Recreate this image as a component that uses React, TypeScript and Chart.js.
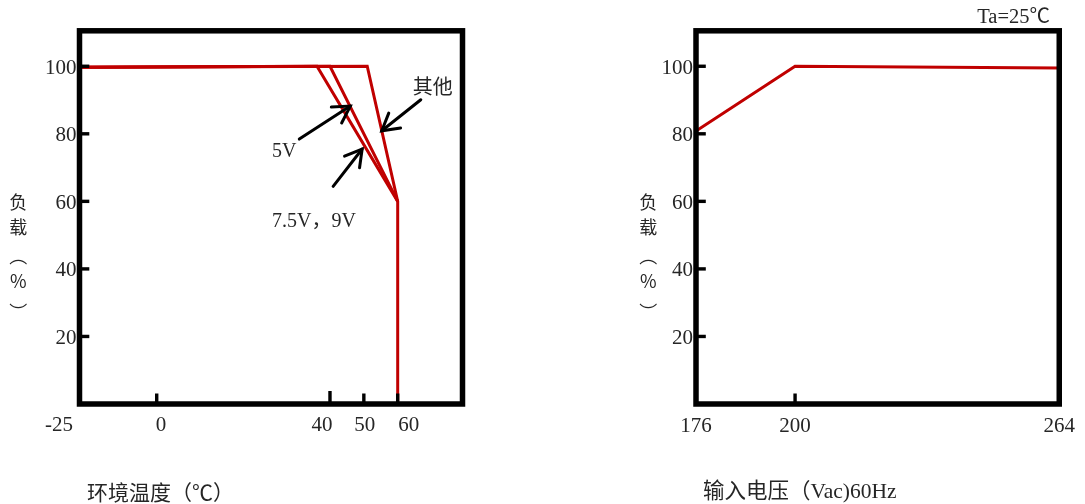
import React, { useEffect, useRef } from 'react';
import { Chart, registerables, LinearScale } from 'chart.js';

Chart.register(...registerables);

// ---------------- data ----------------
// Left chart: derating vs ambient temperature
const tempTicks = [-25, 0, 40, 50, 60];
const tempTickLabels = ['-25', '0', '40', '50', '60'];
const tempTickMarks = [0, 40, 50, 60];
const loadTicks = [20, 40, 60, 80, 100];
const loadTickLabels = ['20', '40', '60', '80', '100'];

const otherLabel = '其他';
const otherX = [-25, 51, 60, 60];
const otherY = [99.7, 100, 60, 0];

const v5Label = '5V';
const v5X = [-25, 40, 60];
const v5Y = [99.7, 100, 60];

const v75Label = '7.5V，9V';
const v75X = [-25, 37, 60];
const v75Y = [99.7, 100, 60];

// arrow heads (data coordinates) for the annotations: 5V, 7.5V/9V, 其他
const arrowHeadX = [46, 49.5, 55.3];
const arrowHeadY = [88.2, 75.5, 80.9];

// Right chart: derating vs input voltage
const voltTicks = [176, 200, 264];
const voltTickLabels = ['176', '200', '264'];
const voltTickMarks = [200];
const voltX = [176, 200, 264];
const voltY = [80.8, 100, 99.5];

const yTitleChars = ['负', '载', '︵', '%', '︶'];
const tempTitle = '环境温度（℃）';
const voltTitle = '输入电压（Vac)60Hz';
const taNote = 'Ta=25℃';

// ---------------- styles ----------------
const RED = '#C00000';
const TEXT = '#262626';
const SERIF = '"Liberation Serif", "Noto Sans CJK SC", serif';
const CJK = '"Noto Sans CJK SC", sans-serif';

// piecewise temperature axis (value -> fraction of axis length)
const TEMP_ANCHORS: [number, number][] = [
  [-25, 0],
  [0, 0.2016],
  [40, 0.654],
  [60, 0.8308],
  [79, 1],
];

class PiecewiseScale extends LinearScale {
  static id = 'piecewise';
  static defaults = LinearScale.defaults;
  getPixelForValue(value: any) {
    if (value === null || value === undefined || isNaN(value)) return NaN;
    const a = TEMP_ANCHORS;
    let i = 0;
    while (i < a.length - 2 && value > a[i + 1][0]) i++;
    const [v0, f0] = a[i];
    const [v1, f1] = a[i + 1];
    const dec = f0 + ((value - v0) / (v1 - v0)) * (f1 - f0);
    return (this as any).getPixelForDecimal(dec);
  }
  getValueForPixel(pixel: number) {
    const dec = (this as any).getDecimalForPixel(pixel);
    const a = TEMP_ANCHORS;
    let i = 0;
    while (i < a.length - 2 && dec > a[i + 1][1]) i++;
    const [v0, f0] = a[i];
    const [v1, f1] = a[i + 1];
    return v0 + ((dec - f0) / (f1 - f0)) * (v1 - v0);
  }
}
Chart.register(PiecewiseScale as any);

function drawArrow(ctx: CanvasRenderingContext2D, hx: number, hy: number, tx: number, ty: number) {
  ctx.beginPath();
  ctx.moveTo(tx, ty);
  ctx.lineTo(hx, hy);
  ctx.stroke();
  const ang = Math.atan2(ty - hy, tx - hx);
  const len = 19;
  const spread = Math.PI / 6;
  ctx.beginPath();
  ctx.moveTo(hx + len * Math.cos(ang - spread), hy + len * Math.sin(ang - spread));
  ctx.lineTo(hx, hy);
  ctx.lineTo(hx + len * Math.cos(ang + spread), hy + len * Math.sin(ang + spread));
  ctx.stroke();
}

type DecorCfg = {
  xMarks: number[];
  longMarks?: Record<number, number>;
  yTitleX: number;
  xTitle: string;
  xTitleX: number;
  xTitleFont: string;
  extra?: (chart: any, ctx: CanvasRenderingContext2D) => void;
};

function makeDecor(cfg: DecorCfg) {
  return {
    id: 'decor',
    afterDatasetsDraw(chart: any) {
      const ctx: CanvasRenderingContext2D = chart.ctx;
      const { left, right, top, bottom } = chart.chartArea;
      const xs = chart.scales.x;
      const ys = chart.scales.y;
      ctx.save();
      // frame
      ctx.strokeStyle = '#000';
      ctx.lineWidth = 5.5;
      ctx.lineJoin = 'miter';
      ctx.strokeRect(left, top, right - left, bottom - top);
      // inward tick marks
      ctx.fillStyle = '#000';
      loadTicks.forEach((v) => {
        const y = ys.getPixelForValue(v);
        ctx.fillRect(left, y - 1.7, 9.8, 3.4);
      });
      cfg.xMarks.forEach((v) => {
        const x = xs.getPixelForValue(v);
        const len = (cfg.longMarks && cfg.longMarks[v]) || 10.5;
        ctx.fillRect(x - 1.7, bottom - len, 3.4, len);
      });
      // vertical y title
      ctx.fillStyle = TEXT;
      ctx.font = `18px ${CJK}`;
      ctx.textAlign = 'center';
      ctx.textBaseline = 'middle';
      const yPos = [202, 227, 256, 281, 312];
      yTitleChars.forEach((ch, i) => ctx.fillText(ch, cfg.yTitleX, yPos[i]));
      // x title
      ctx.font = cfg.xTitleFont;
      ctx.textAlign = 'left';
      ctx.fillText(cfg.xTitle, cfg.xTitleX, 492);
      if (cfg.extra) cfg.extra(chart, ctx);
      ctx.restore();
    },
  };
}

function pts(xs: number[], ys: number[]) {
  return xs.map((x, i) => ({ x, y: ys[i] }));
}

function lineDs(label: string, data: any[]) {
  return {
    label,
    data,
    borderColor: RED,
    backgroundColor: RED,
    borderWidth: 3,
    pointRadius: 0,
    tension: 0,
    fill: false,
    borderJoinStyle: 'miter',
  };
}

const yAxis = (width: number) => ({
  type: 'linear',
  min: 0,
  max: 110.5,
  afterBuildTicks: (s: any) => {
    s.ticks = loadTicks.map((v) => ({ value: v }));
  },
  ticks: {
    padding: 3,
    labelOffset: 2,
    color: TEXT,
    font: { family: SERIF, size: 21 },
    callback: (_v: any, i: number) => loadTickLabels[i],
  },
  grid: { display: false, drawTicks: false },
  border: { display: false },
  afterFit: (s: any) => {
    s.width = width;
  },
});

function leftConfig(): any {
  const labelDx = [-20.5, 4.3, -8, 1, 11];
  const decor = makeDecor({
    xMarks: tempTickMarks,
    longMarks: { 40: 13 },
    yTitleX: 18.3,
    xTitle: tempTitle,
    xTitleX: 87,
    xTitleFont: `21px ${CJK}`,
    extra: (chart, ctx) => {
      const xs = chart.scales.x;
      const ys = chart.scales.y;
      // x tick labels
      ctx.fillStyle = TEXT;
      ctx.font = `21px ${SERIF}`;
      ctx.textAlign = 'center';
      ctx.textBaseline = 'middle';
      tempTicks.forEach((v, i) => {
        ctx.fillText(tempTickLabels[i], xs.getPixelForValue(v) + labelDx[i], 425);
      });
      // annotations
      ctx.font = `20px ${SERIF}`;
      ctx.textAlign = 'left';
      ctx.fillText(v5Label, 272, 152);
      ctx.fillText(v75Label, 272, 221.5);
      ctx.font = `20px ${CJK}`;
      ctx.fillText(otherLabel, 412.7, 86);
      // arrows
      ctx.strokeStyle = '#000';
      ctx.lineWidth = 3;
      ctx.lineCap = 'round';
      const tails = [
        [-51, 33],
        [-29, 37.3],
        [39, -31],
      ];
      arrowHeadX.forEach((hx, i) => {
        const px = xs.getPixelForValue(hx);
        const py = ys.getPixelForValue(arrowHeadY[i]);
        drawArrow(ctx, px, py, px + tails[i][0], py + tails[i][1]);
      });
    },
  });
  return {
    type: 'line',
    data: {
      datasets: [
        lineDs(otherLabel, pts(otherX, otherY)),
        lineDs(v5Label, pts(v5X, v5Y)),
        lineDs(v75Label, pts(v75X, v75Y)),
      ],
    },
    options: {
      animation: false,
      responsive: false,
      layout: { padding: { left: 0, top: 30.8, right: 560 - 462.5, bottom: 60 } },
      plugins: { legend: { display: false }, tooltip: { enabled: false } },
      scales: {
        x: {
          type: 'piecewise',
          min: -25,
          max: 79,
          afterBuildTicks: (s: any) => {
            s.ticks = tempTicks.map((v) => ({ value: v }));
          },
          ticks: { display: false },
          grid: { display: false, drawTicks: false },
          border: { display: false },
          afterFit: (s: any) => {
            s.height = 40;
          },
        },
        y: yAxis(79.5),
      },
    },
    plugins: [decor],
  };
}

function rightConfig(): any {
  const decor = makeDecor({
    xMarks: voltTickMarks,
    yTitleX: 88.3,
    xTitle: voltTitle,
    xTitleX: 143,
    xTitleFont: `21.5px ${SERIF}`,
    extra: (_chart, ctx) => {
      ctx.fillStyle = TEXT;
      ctx.font = `20.5px ${SERIF}`;
      ctx.textAlign = 'right';
      ctx.textBaseline = 'middle';
      ctx.fillText(taNote, 490, 17.5);
    },
  });
  return {
    type: 'line',
    data: {
      datasets: [lineDs('负载', pts(voltX, voltY))],
    },
    options: {
      animation: false,
      responsive: false,
      layout: { padding: { left: 0, top: 30.8, right: 23, bottom: 60 } },
      plugins: { legend: { display: false }, tooltip: { enabled: false } },
      scales: {
        x: {
          type: 'linear',
          min: 176,
          max: 264,
          afterBuildTicks: (s: any) => {
            s.ticks = voltTicks.map((v) => ({ value: v }));
          },
          ticks: {
            autoSkip: false,
            maxRotation: 0,
            padding: 10,
            color: TEXT,
            font: { family: SERIF, size: 21 },
            callback: (_v: any, i: number) => voltTickLabels[i],
          },
          grid: { display: false, drawTicks: false },
          border: { display: false },
          afterFit: (s: any) => {
            s.height = 40;
          },
        },
        y: yAxis(136),
      },
    },
    plugins: [decor],
  };
}

export default function App() {
  const leftRef = useRef<HTMLCanvasElement>(null);
  const rightRef = useRef<HTMLCanvasElement>(null);
  useEffect(() => {
    const c1 = new Chart(leftRef.current as HTMLCanvasElement, leftConfig());
    const c2 = new Chart(rightRef.current as HTMLCanvasElement, rightConfig());
    return () => {
      c1.destroy();
      c2.destroy();
    };
  }, []);
  return (
    <div style={{ position: 'fixed', left: 0, top: 0, width: 1085, height: 504, background: '#fff' }}>
      <canvas
        ref={leftRef}
        width={560}
        height={504}
        style={{ position: 'absolute', left: 0, top: 0, width: 560, height: 504 }}
      />
      <canvas
        ref={rightRef}
        width={525}
        height={504}
        style={{ position: 'absolute', left: 560, top: 0, width: 525, height: 504 }}
      />
    </div>
  );
}
